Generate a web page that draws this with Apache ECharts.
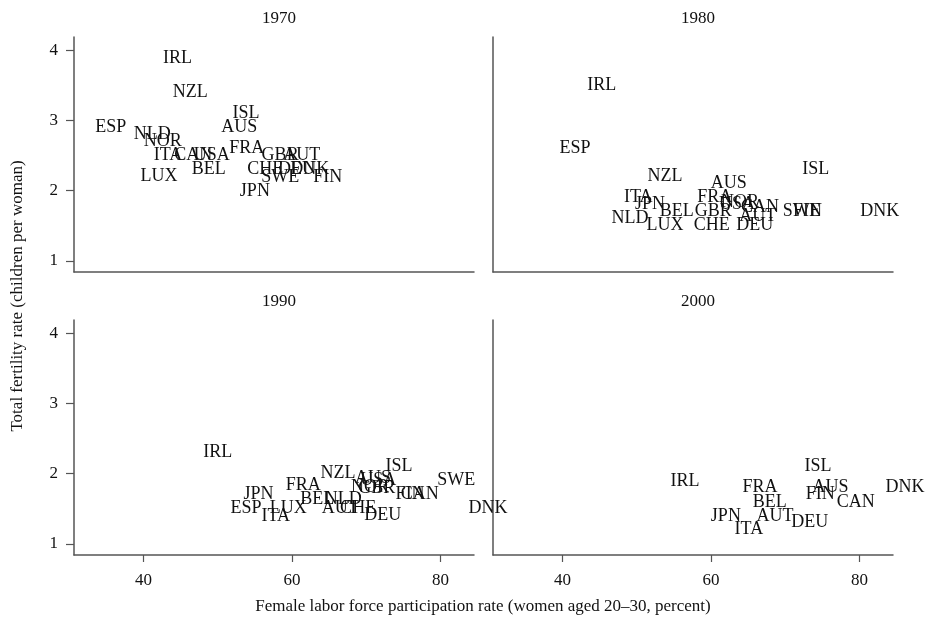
<!DOCTYPE html>
<html>
<head>
<meta charset="utf-8">
<script src="https://cdn.jsdelivr.net/npm/echarts@6/dist/echarts.min.js"></script>
<style>
html, body { margin: 0; padding: 0; background: #fff; }
#main { width: 929px; height: 623px; }
</style>
</head>
<body>
<div id="main"></div>
<script>
var myChart = echarts.init(document.getElementById('main'));

var years = ['1970', '1980', '1990', '2000'];
var xTicks = [40, 60, 80];
var yTicks = [1, 2, 3, 4];

// 1970
var codes1970 = ['IRL', 'NZL', 'ISL', 'AUS', 'ESP', 'NLD', 'NOR', 'ITA', 'CAN', 'USA', 'FRA',
                 'GBR', 'AUT', 'BEL', 'LUX', 'CHE', 'DEU', 'DNK', 'SWE', 'FIN', 'JPN'];
var lfp1970 = [44.6, 46.3, 53.8, 52.9, 35.6, 41.2, 42.6, 43.3, 46.7, 49.2, 53.9,
               58.4, 61.3, 48.8, 42.1, 56.4, 60.6, 62.4, 58.4, 64.8, 55.0];
var tfr1970 = [3.89, 3.40, 3.10, 2.90, 2.90, 2.81, 2.71, 2.50, 2.50, 2.50, 2.60,
               2.50, 2.50, 2.30, 2.20, 2.30, 2.30, 2.30, 2.19, 2.19, 1.99];

// 1980
var codes1980 = ['IRL', 'ESP', 'ISL', 'NZL', 'AUS', 'ITA', 'JPN', 'FRA', 'NOR', 'CAN', 'BEL',
                 'GBR', 'USA', 'AUT', 'NLD', 'LUX', 'CHE', 'DEU', 'SWE', 'FIN', 'DNK'];
var lfp1980 = [45.3, 41.7, 74.1, 53.8, 62.4, 50.2, 51.8, 60.5, 63.9, 66.6, 55.4,
               60.3, 63.5, 66.3, 49.1, 53.8, 60.1, 65.9, 72.2, 73.0, 82.7];
var tfr1980 = [3.50, 2.60, 2.30, 2.20, 2.10, 1.90, 1.81, 1.90, 1.83, 1.76, 1.70,
               1.70, 1.80, 1.64, 1.61, 1.51, 1.51, 1.50, 1.71, 1.71, 1.71];

// 1990
var codes1990 = ['IRL', 'ISL', 'NZL', 'AUS', 'USA', 'NOR', 'GBR', 'FIN', 'CAN', 'SWE', 'FRA',
                 'JPN', 'BEL', 'NLD', 'ESP', 'LUX', 'ITA', 'AUT', 'CHE', 'DEU', 'DNK'];
var lfp1990 = [50.0, 74.4, 66.2, 70.9, 71.6, 70.5, 71.4, 75.9, 77.2, 82.1, 61.5,
               55.5, 63.4, 66.9, 53.8, 59.5, 57.8, 66.5, 68.9, 72.2, 86.4];
var tfr1990 = [2.30, 2.10, 2.00, 1.94, 1.90, 1.81, 1.79, 1.71, 1.71, 1.90, 1.83,
               1.71, 1.63, 1.63, 1.50, 1.50, 1.39, 1.50, 1.50, 1.40, 1.50];

// 2000
var codes2000 = ['IRL', 'ISL', 'FRA', 'AUS', 'FIN', 'DNK', 'CAN', 'BEL', 'JPN', 'AUT', 'DEU', 'ITA'];
var lfp2000 = [56.5, 74.4, 66.6, 76.1, 74.7, 86.1, 79.5, 67.9, 62.0, 68.6, 73.3, 65.1];
var tfr2000 = [1.89, 2.10, 1.80, 1.81, 1.70, 1.80, 1.59, 1.59, 1.39, 1.39, 1.31, 1.20];

var panelCodes = [codes1970, codes1980, codes1990, codes2000];
var panelX = [lfp1970, lfp1980, lfp1990, lfp2000];
var panelY = [tfr1970, tfr1980, tfr1990, tfr2000];

var serif = 'Liberation Serif';
var ink = '#111';
var axisGray = '#555';

var grids = [
    {left: 74, top: 37, width: 400, height: 235},
    {left: 493, top: 37, width: 400, height: 235},
    {left: 74, top: 320, width: 400, height: 235},
    {left: 493, top: 320, width: 400, height: 235}
];

var xAxes = [], yAxes = [], series = [], titles = [];
for (var i = 0; i < 4; i++) {
    var bottom = i >= 2;
    var left = i % 2 === 0;
    xAxes.push({
        type: 'value', gridIndex: i, min: 30.65, max: 84.5,
        splitLine: {show: false},
        axisLine: {show: true, lineStyle: {color: axisGray, width: 1.5}},
        axisTick: {show: bottom, length: 7, lineStyle: {color: axisGray, width: 1.2}, customValues: xTicks},
        axisLabel: {show: bottom, margin: 17, color: ink, fontFamily: serif, fontSize: 17, customValues: xTicks}
    });
    yAxes.push({
        type: 'value', gridIndex: i, min: 0.84, max: 4.19,
        splitLine: {show: false},
        axisLine: {show: true, lineStyle: {color: axisGray, width: 1.5}},
        axisTick: {show: left, length: 8, lineStyle: {color: axisGray, width: 1.2}, customValues: yTicks},
        axisLabel: {show: left, margin: 16, color: ink, fontFamily: serif, fontSize: 17, customValues: yTicks}
    });
    var pts = panelCodes[i].map(function (c, j) {
        return {value: [panelX[i][j], panelY[i][j]], name: c};
    });
    series.push({
        type: 'scatter', xAxisIndex: i, yAxisIndex: i,
        data: pts, symbolSize: 1, clip: false, silent: true,
        itemStyle: {color: 'rgba(0,0,0,0)'},
        label: {
            show: true, position: 'inside', formatter: '{b}',
            color: ink, fontFamily: serif, fontSize: 18,
            textBorderWidth: 0, opacity: 1
        },
        labelLayout: {hideOverlap: false}
    });
    titles.push({
        text: years[i],
        left: grids[i].left + grids[i].width / 2, top: grids[i].top - 32,
        textAlign: 'center',
        textStyle: {color: ink, fontFamily: serif, fontSize: 17, fontWeight: 'normal'}
    });
}

myChart.setOption({
    animation: false,
    title: titles,
    grid: grids,
    xAxis: xAxes,
    yAxis: yAxes,
    series: series,
    graphic: [
        {
            type: 'text', x: 18, y: 296, rotation: Math.PI / 2,
            style: {text: 'Total fertility rate (children per woman)', fill: ink,
                    font: '17px "Liberation Serif"', align: 'center', verticalAlign: 'middle'}
        },
        {
            type: 'text', x: 483, y: 607,
            style: {text: 'Female labor force participation rate (women aged 20\u201330, percent)', fill: ink,
                    font: '17px "Liberation Serif"', align: 'center', verticalAlign: 'middle'}
        }
    ]
});
</script>
</body>
</html>
